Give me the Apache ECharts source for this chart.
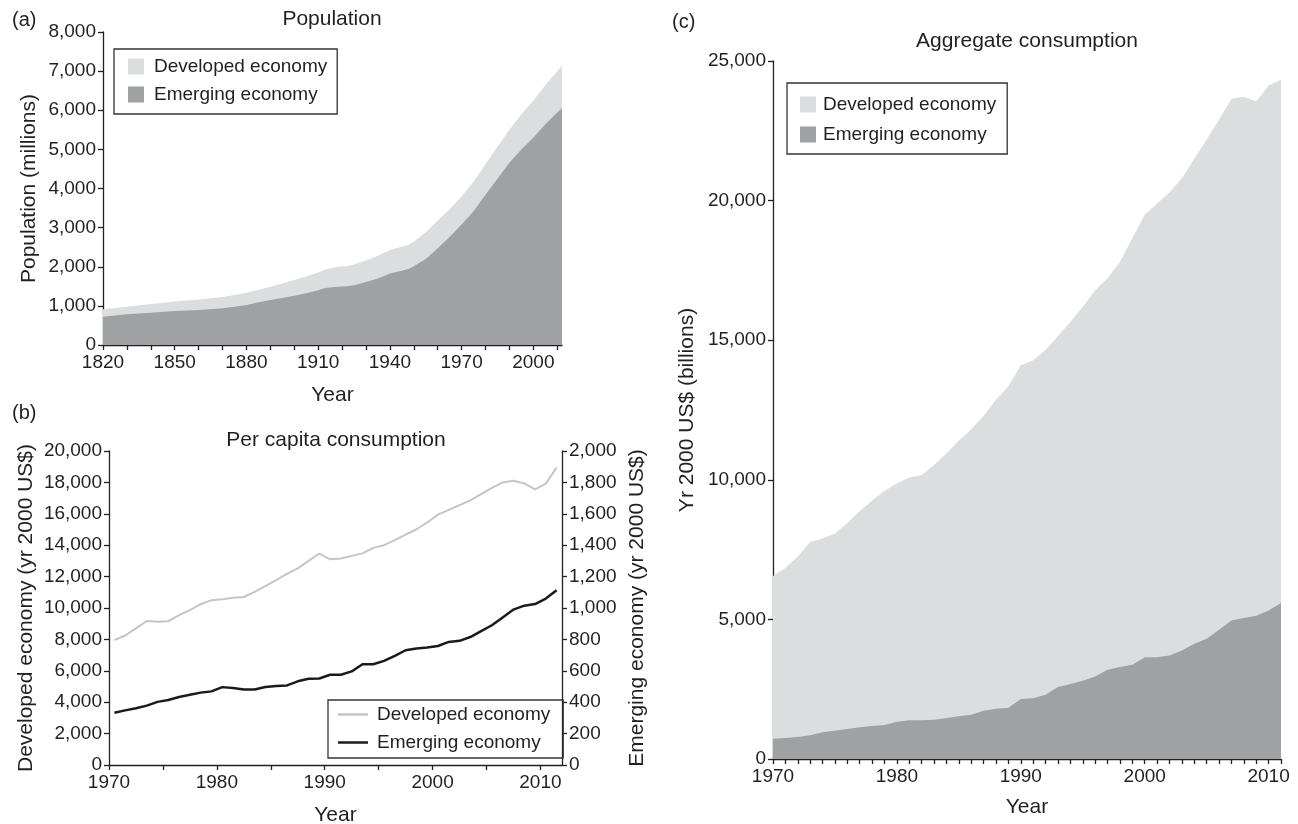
<!DOCTYPE html>
<html><head><meta charset="utf-8">
<script src="https://cdn.jsdelivr.net/npm/echarts@6/dist/echarts.min.js"></script>
<style>html,body{margin:0;padding:0;background:#fff}#c{width:1298px;height:824px}</style>
</head><body><div id="c"></div>
<script>
// ---------- Panel (a): Population (millions) ----------
const popYears     = [1820,1830,1840,1850,1860,1870,1875,1880,1885,1890,1895,1900,1905,1910,1913,1918,1922,1925,1930,1935,1940,1945,1948,1950,1955,1960,1965,1970,1975,1980,1985,1990,1995,2000,2005,2010,2012];
const popEmerging  = [723,783,826,872,895,940,975,1021,1090,1149,1200,1260,1320,1400,1460,1489,1500,1530,1610,1700,1830,1900,1950,2010,2200,2470,2760,3080,3420,3840,4250,4660,5000,5300,5640,5940,6060];
const popDeveloped = [188,196,221,243,265,290,305,315,320,340,370,400,430,450,472,511,510,530,550,580,596,610,610,630,680,710,710,720,750,780,820,840,900,950,1000,1060,1080];
const popTickYears  = [1820,1830,1840,1850,1860,1870,1880,1890,1900,1910,1920,1930,1940,1950,1960,1970,1980,1990,2000,2010];
const popLabelYears = [1820,1850,1880,1910,1940,1970,2000];

// ---------- Panel (b): Per capita consumption (yr 2000 US$) ----------
const pcYears = [1970,1971,1972,1973,1974,1975,1976,1977,1978,1979,1980,1981,1982,1983,1984,1985,1986,1987,1988,1989,1990,1991,1992,1993,1994,1995,1996,1997,1998,1999,2000,2001,2002,2003,2004,2005,2006,2007,2008,2009,2010,2011];
const pcDeveloped = [7950,8250,8700,9170,9130,9160,9550,9870,10240,10500,10550,10650,10700,11030,11400,11780,12170,12520,13000,13470,13100,13150,13320,13480,13830,14000,14320,14680,15000,15450,15950,16250,16550,16850,17250,17650,18000,18100,17930,17550,17920,18950];
const pcEmerging  = [333,348,362,378,402,414,433,447,461,469,496,491,481,481,497,503,507,533,549,551,575,575,596,642,642,663,695,731,742,748,758,784,791,815,853,890,940,990,1015,1025,1060,1113];
const pcTickYears  = [1970,1975,1980,1985,1990,1995,2000,2005,2010];
const pcLabelYears = [1970,1980,1990,2000,2010];

// ---------- Panel (c): Aggregate consumption (Yr 2000 US$ billions) ----------
const aggYears = [1970,1971,1972,1973,1974,1975,1976,1977,1978,1979,1980,1981,1982,1983,1984,1985,1986,1987,1988,1989,1990,1991,1992,1993,1994,1995,1996,1997,1998,1999,2000,2001,2002,2003,2004,2005,2006,2007,2008,2009,2010,2011];
const aggEmerging  = [728,752,788,847,955,1014,1074,1134,1181,1217,1337,1384,1384,1408,1468,1527,1587,1730,1802,1838,2148,2172,2303,2578,2685,2804,2959,3198,3294,3377,3640,3640,3711,3890,4129,4308,4630,4964,5048,5131,5322,5585];
const aggDeveloped = [5822,6088,6462,6923,6945,7066,7376,7736,8079,8383,8543,8696,8786,9122,9482,9873,10223,10560,11068,11512,11952,12108,12347,12572,12965,13396,13821,14022,14506,15273,15850,16260,16579,16910,17371,17882,18270,18686,18672,18419,18798,18755];
const aggLabelYears = [1970,1980,1990,2000,2010];

const FONT = 'Liberation Sans, Arial, sans-serif';
const TXT = '#231f20';
const LIGHT = '#dcdddf', DARK = '#a0a1a3';
const fmt = v => Number(v).toLocaleString('en-US');
const yr = v => String(v);

// stacked top edge = emerging + developed
const popTotal = popEmerging.map((v,i)=>v+popDeveloped[i]);
const aggTotal = aggEmerging.map((v,i)=>v+aggDeveloped[i]);

const LBL = 19, TTL = 21;
function axisCommon(extra){
  return Object.assign({
    axisLine:{show:true,onZero:false,lineStyle:{color:'#231f20',width:1.3}},
    axisTick:{show:true,length:5,lineStyle:{color:'#231f20',width:1.3}},
    axisLabel:{color:TXT,fontFamily:FONT,fontSize:LBL},
    splitLine:{show:false},
    nameTextStyle:{color:TXT,fontFamily:FONT,fontSize:TTL}
  }, extra);
}
const tick = vals => ({show:true,length:5,customValues:vals,lineStyle:{color:'#231f20',width:1.3}});
const lab = vals => ({customValues:vals,formatter:yr,color:TXT,fontFamily:FONT,fontSize:LBL,margin:8});
const ylab = {formatter:fmt,color:TXT,fontFamily:FONT,fontSize:LBL,margin:7};
const legText = {fontFamily:FONT,fontSize:LBL,color:TXT,lineHeight:19};

const chart = echarts.init(document.getElementById('c'), null, {renderer:'canvas'});

const option = {
  animation:false,
  backgroundColor:'#fff',
  textStyle:{fontFamily:FONT,color:TXT},
  grid:[
    {left:103, top:32, width:459, height:313, containLabel:false, outerBoundsMode:'none'},
    {left:109, top:451, width:453, height:314, containLabel:false, outerBoundsMode:'none'},
    {left:773, top:61, width:508, height:698, containLabel:false, outerBoundsMode:'none'}
  ],
  xAxis:[
    axisCommon({gridIndex:0,type:'value',min:1820,max:2012,axisTick:tick(popTickYears),axisLabel:lab(popLabelYears),
      name:'Year',nameLocation:'middle',nameGap:40}),
    axisCommon({gridIndex:1,type:'value',min:1970,max:2012,axisTick:tick(pcTickYears),axisLabel:lab(pcLabelYears),
      name:'Year',nameLocation:'middle',nameGap:40}),
    axisCommon({gridIndex:2,type:'value',min:1970,max:2011,axisTick:tick(aggYears),axisLabel:lab(aggLabelYears),
      name:'Year',nameLocation:'middle',nameGap:38})
  ],
  yAxis:[
    axisCommon({gridIndex:0,type:'value',min:0,max:8000,interval:1000,axisLabel:ylab,
      name:'Population (millions)',nameLocation:'middle',nameGap:63}),
    axisCommon({gridIndex:1,type:'value',min:0,max:20000,interval:2000,axisLabel:ylab,
      name:'Developed economy (yr 2000 US$)',nameLocation:'middle',nameGap:72}),
    axisCommon({gridIndex:1,type:'value',position:'right',min:0,max:2000,interval:200,axisLabel:ylab,
      name:'Emerging economy (yr 2000 US$)',nameLocation:'middle',nameGap:65,nameRotate:90}),
    axisCommon({gridIndex:2,type:'value',min:0,max:25000,interval:5000,axisLabel:ylab,
      name:'Yr 2000 US$ (billions)',nameLocation:'middle',nameGap:75})
  ],
  legend:[
    {left:114,top:49,orient:'vertical',padding:[8,10,10,14],itemGap:9,itemWidth:16,itemHeight:16,
     borderColor:'#333',borderWidth:1.3,textStyle:Object.assign({},legText,{padding:[0,0,0,5]}),
     data:[{name:'Developed economy',icon:'rect'},{name:'Emerging economy',icon:'rect'}]},
    {left:328,top:700,orient:'vertical',padding:[5,13,6,10],itemGap:9,itemWidth:30,itemHeight:2.5,
     borderColor:'#333',borderWidth:1.3,textStyle:Object.assign({},legText,{padding:[0,0,0,4]}),
     data:[{name:'Developed economy p',icon:'rect'},{name:'Emerging economy p',icon:'rect'}],
     formatter:n=>n.replace(/ p$/,'')},
    {left:787,top:83,orient:'vertical',padding:[12,11,10,13],itemGap:11,itemWidth:16,itemHeight:16,
     borderColor:'#333',borderWidth:1.3,textStyle:Object.assign({},legText,{padding:[0,0,0,2]}),
     data:[{name:'Developed economy c',icon:'rect'},{name:'Emerging economy c',icon:'rect'}],
     formatter:n=>n.replace(/ c$/,'')}
  ],
  series:[
    {name:'Developed economy',type:'line',xAxisIndex:0,yAxisIndex:0,symbol:'none',
     lineStyle:{width:0},itemStyle:{color:LIGHT},areaStyle:{color:LIGHT,opacity:1},
     data:popYears.map((y,i)=>[y,popTotal[i]])},
    {name:'Emerging economy',type:'line',xAxisIndex:0,yAxisIndex:0,symbol:'none',
     lineStyle:{width:0},itemStyle:{color:DARK},areaStyle:{color:DARK,opacity:1},
     data:popYears.map((y,i)=>[y,popEmerging[i]])},

    {name:'Developed economy p',type:'line',xAxisIndex:1,yAxisIndex:1,symbol:'none',
     lineStyle:{width:2,color:'#c4c5c7'},itemStyle:{color:'#c4c5c7'},
     data:pcYears.map((y,i)=>[y+0.5,pcDeveloped[i]])},
    {name:'Emerging economy p',type:'line',xAxisIndex:1,yAxisIndex:2,symbol:'none',
     lineStyle:{width:2.5,color:'#1a1a1a'},itemStyle:{color:'#1a1a1a'},
     data:pcYears.map((y,i)=>[y+0.5,pcEmerging[i]])},

    {name:'Developed economy c',type:'line',xAxisIndex:2,yAxisIndex:3,symbol:'none',
     lineStyle:{width:0},itemStyle:{color:LIGHT},areaStyle:{color:LIGHT,opacity:1},
     data:aggYears.map((y,i)=>[y,aggTotal[i]])},
    {name:'Emerging economy c',type:'line',xAxisIndex:2,yAxisIndex:3,symbol:'none',
     lineStyle:{width:0},itemStyle:{color:DARK},areaStyle:{color:DARK,opacity:1},
     data:aggYears.map((y,i)=>[y,aggEmerging[i]])}
  ],
  graphic:[
    {type:'text',x:12,y:10,style:{text:'(a)',font:'20px '+FONT,fill:TXT}},
    {type:'text',x:332,y:9,style:{text:'Population',font:TTL+'px '+FONT,fill:TXT,textAlign:'center'}},
    {type:'text',x:12,y:403,style:{text:'(b)',font:'20px '+FONT,fill:TXT}},
    {type:'text',x:336,y:430,style:{text:'Per capita consumption',font:TTL+'px '+FONT,fill:TXT,textAlign:'center'}},
    {type:'text',x:672,y:12,style:{text:'(c)',font:'20px '+FONT,fill:TXT}},
    {type:'text',x:1027,y:31,style:{text:'Aggregate consumption',font:TTL+'px '+FONT,fill:TXT,textAlign:'center'}}
  ]
};
chart.setOption(option);
</script></body></html>
